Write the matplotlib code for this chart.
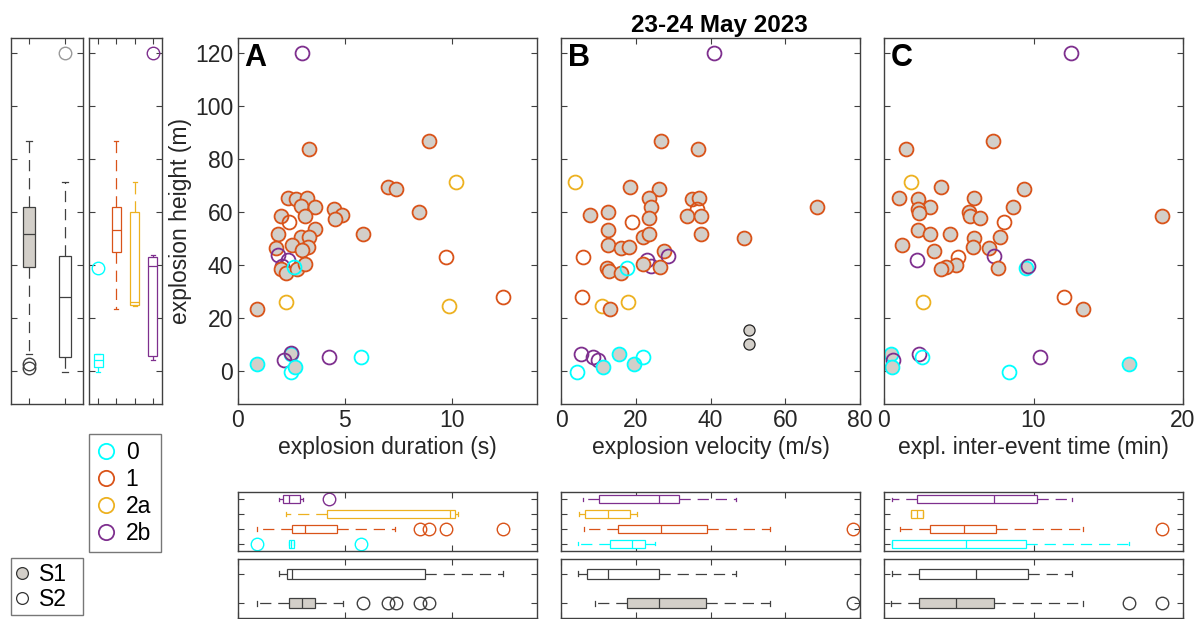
import matplotlib
matplotlib.use('Agg')
import matplotlib.pyplot as plt
from matplotlib.lines import Line2D

plt.rcParams['font.family'] = ['Liberation Sans', 'DejaVu Sans']

W, H = 1202, 619

# ---------------- colours ----------------
CLASS_COL = {'0': '#00FFFF', '1': '#D95319', '2a': '#EDB120', '2b': '#7E2F8E', 'u': '#333333'}
S1_FILL = '#D3CFC9'
AX_COL = '#404040'

class_names = ['0', '1', '2a', '2b']
station_names = ['S1', 'S2']

# ---------------- scatter data ----------------
# Panel A: explosion duration (s)
dur_x = [3.02, 3.32, 8.94, 10.19, 7.01, 7.38, 8.49, 5.83, 9.74, 12.40, 9.86, 2.26, 0.87, 0.90, 2.46,
         2.50, 2.17, 2.48, 2.68, 4.25, 5.76, 2.32, 2.71, 3.22, 2.93, 3.60, 2.00, 2.40, 3.15, 4.50,
         4.89, 4.55, 1.88, 3.61, 2.93, 3.33, 2.52, 3.29, 1.78, 2.99, 1.88, 2.35, 2.07, 2.00, 2.27,
         2.74, 3.15, 2.63]
dur_h = [120.0, 83.5, 86.7, 71.3, 69.3, 68.4, 60.0, 51.5, 43.0, 27.9, 24.4, 26.0, 23.5, 2.7, 6.2,
         6.6, 4.0, -0.4, 1.3, 5.3, 5.3, 65.0, 64.7, 65.0, 62.2, 61.9, 58.4, 56.1, 58.4, 61.0,
         58.6, 57.2, 51.6, 53.4, 50.6, 50.3, 47.4, 46.6, 46.2, 45.5, 43.5, 41.8, 39.5, 38.5, 37.0,
         38.5, 40.1, 39.0]
dur_cls = ['2b', '1', '1', '2a', '1', '1', '1', '1', '1', '1', '2a', '2a', '1', '0', '0',
           '2b', '2b', '0', '0', '2b', '0', '1', '1', '1', '1', '1', '1', '1', '1', '1',
           '1', '1', '1', '1', '1', '1', '1', '1', '1', '1', '2b', '2b', '2b', '1', '1',
           '1', '1', '0']
dur_st = ['S2', 'S1', 'S1', 'S2', 'S1', 'S1', 'S1', 'S1', 'S2', 'S2', 'S2', 'S2', 'S1', 'S1', 'S1',
          'S2', 'S2', 'S2', 'S1', 'S2', 'S2', 'S1', 'S1', 'S1', 'S1', 'S1', 'S1', 'S2', 'S1', 'S1',
          'S1', 'S1', 'S1', 'S1', 'S1', 'S1', 'S1', 'S1', 'S1', 'S1', 'S2', 'S2', 'S2', 'S1', 'S1',
          'S1', 'S1', 'S2']

# Panel B: explosion velocity (m/s)
vel_x = [40.9, 26.8, 36.7, 3.8, 18.4, 26.2, 23.6, 24.2, 35.1, 36.9, 36.3, 33.8, 37.4, 37.4, 68.4,
         48.9, 7.8, 12.6, 18.9, 23.5, 12.6, 22.0, 23.6, 12.5, 16.0, 18.1, 6.0, 27.5, 28.7, 23.1,
         24.1, 22.0, 26.5, 12.4, 12.9, 16.0, 17.6, 5.7, 10.9, 13.2, 17.8, 50.3, 50.3, 5.3, 8.5,
         10.0, 11.3, 15.5, 19.5, 22.0, 4.2]
vel_h = [120.0, 86.7, 83.5, 71.3, 69.3, 68.4, 65.0, 61.9, 64.7, 65.0, 61.2, 58.4, 58.4, 51.5, 61.9,
         50.0, 58.8, 60.0, 56.1, 57.5, 53.1, 50.6, 51.5, 47.4, 46.2, 46.6, 43.0, 45.3, 43.3, 41.8,
         39.5, 40.1, 39.0, 38.8, 37.8, 36.9, 38.8, 27.9, 24.4, 23.5, 26.0, 15.4, 10.1, 6.2, 5.3,
         4.0, 1.3, 6.2, 2.7, 5.3, -0.4]
vel_cls = ['2b', '1', '1', '2a', '1', '1', '1', '1', '1', '1', '1', '1', '1', '1', '1',
           '1', '1', '1', '1', '1', '1', '1', '1', '1', '1', '1', '1', '1', '2b', '2b',
           '2b', '1', '1', '1', '1', '1', '0', '1', '2a', '1', '2a', 'u', 'u', '2b', '2b',
           '2b', '0', '0', '0', '0', '0']
vel_st = ['S2', 'S1', 'S1', 'S2', 'S1', 'S1', 'S1', 'S1', 'S1', 'S1', 'S2', 'S1', 'S1', 'S1', 'S1',
          'S1', 'S1', 'S1', 'S2', 'S1', 'S1', 'S1', 'S1', 'S1', 'S1', 'S1', 'S2', 'S1', 'S2', 'S2',
          'S2', 'S1', 'S1', 'S1', 'S1', 'S1', 'S2', 'S2', 'S2', 'S1', 'S2', 'S1', 'S1', 'S2', 'S2',
          'S2', 'S1', 'S1', 'S1', 'S2', 'S2']

# Panel C: inter-event time (min)
iet_x = [12.51, 1.47, 7.29, 1.80, 3.80, 9.38, 1.02, 2.29, 6.02, 3.07, 2.29, 5.69, 8.62, 2.33, 5.78,
         6.40, 8.02, 18.62, 2.29, 3.07, 4.40, 6.02, 7.73, 1.22, 3.33, 5.98, 7.02, 4.98, 2.18, 7.36,
         4.80, 4.13, 3.84, 7.64, 9.47, 9.64, 2.62, 12.04, 13.31, 0.44, 0.58, 0.51, 2.31, 2.56, 10.44,
         8.33, 16.42]
iet_h = [120.0, 83.5, 86.7, 71.3, 69.3, 68.4, 65.0, 64.7, 65.0, 61.9, 61.2, 60.0, 61.9, 59.4, 58.5,
         57.5, 56.1, 58.4, 53.1, 51.5, 51.5, 50.0, 50.6, 47.4, 45.3, 46.6, 46.2, 43.0, 41.7, 43.3,
         39.9, 39.0, 38.3, 38.8, 38.8, 39.5, 26.0, 27.9, 23.5, 6.2, 4.0, 1.3, 6.2, 5.3, 5.3,
         -0.4, 2.7]
iet_cls = ['2b', '1', '1', '2a', '1', '1', '1', '1', '1', '1', '1', '1', '1', '1', '1',
           '1', '1', '1', '1', '1', '1', '1', '1', '1', '1', '1', '1', '1', '2b', '2b',
           '1', '1', '1', '1', '0', '2b', '2a', '1', '1', '0', '2b', '0', '2b', '0', '2b',
           '0', '0']
iet_st = ['S2', 'S1', 'S1', 'S2', 'S1', 'S1', 'S1', 'S1', 'S1', 'S1', 'S1', 'S1', 'S1', 'S1', 'S1',
          'S1', 'S2', 'S1', 'S1', 'S1', 'S1', 'S1', 'S1', 'S1', 'S1', 'S1', 'S1', 'S2', 'S2', 'S2',
          'S1', 'S1', 'S1', 'S1', 'S1', 'S2', 'S2', 'S2', 'S1', 'S1', 'S2', 'S1', 'S2', 'S2', 'S2',
          'S2', 'S1']

# ---------------- box-plot statistics ----------------
# height by station (S1, S2)
hs_lo = [6.3, -0.4]; hs_q1 = [39.0, 5.3]; hs_med = [51.5, 27.7]; hs_q3 = [61.7, 43.4]; hs_hi = [86.7, 71.3]
hs_fl = [[2.4, 1.1], [120.0]]
# height by class (0, 1, 2a, 2b)
hc_lo = [-0.4, 23.5, 24.4, 4.0]; hc_q1 = [1.3, 44.7, 24.7, 5.5]; hc_med = [4.0, 53.1, 26.0, 39.6]
hc_q3 = [6.2, 61.8, 60.0, 43.0]; hc_hi = [6.2, 86.7, 71.3, 43.5]; hc_fl = [[38.8], [], [], [120.0]]

# duration by class / station
dc_lo = [2.40, 0.87, 2.27, 1.92]; dc_q1 = [2.40, 2.51, 4.16, 2.12]; dc_med = [2.50, 3.16, 9.91, 2.37]
dc_q3 = [2.63, 4.64, 10.17, 2.90]; dc_hi = [2.63, 7.37, 10.30, 3.04]
dc_fl = [[0.90, 5.78], [8.50, 8.94, 9.75, 12.40], [], [4.25]]
ds_lo = [0.87, 1.92]; ds_q1 = [2.38, 2.30]; ds_med = [3.0, 2.51]; ds_q3 = [3.61, 8.75]; ds_hi = [4.92, 12.4]
ds_fl = [[5.83, 7.03, 7.42, 8.50, 8.94], []]

# velocity by class / station
vc_lo = [4.6, 6.2, 4.8, 6.0]; vc_q1 = [13.0, 15.2, 6.3, 10.2]; vc_med = [18.9, 26.8, 12.6, 26.3]
vc_q3 = [22.4, 39.0, 18.5, 31.6]; vc_hi = [25.2, 56.0, 20.4, 46.7]
vc_fl = [[], [78.0], [], []]
vs_lo = [9.0, 4.6]; vs_q1 = [17.7, 6.9]; vs_med = [26.1, 12.6]; vs_q3 = [38.8, 26.3]; vs_hi = [56.0, 46.7]
vs_fl = [[78.0], []]

# inter-event time by class / station
ic_lo = [0.53, 1.07, 1.82, 0.53]; ic_q1 = [0.53, 3.09, 1.82, 2.22]; ic_med = [5.47, 5.33, 2.24, 7.38]
ic_q3 = [9.49, 7.47, 2.64, 10.22]; ic_hi = [16.36, 13.33, 2.64, 12.56]
ic_fl = [[], [18.62], [], []]
is_lo = [0.47, 0.53]; is_q1 = [2.33, 2.33]; is_med = [4.82, 6.18]; is_q3 = [7.38, 9.62]; is_hi = [13.29, 12.56]
is_fl = [[16.36, 18.62], []]


def stats(lo, q1, med, q3, hi, fl):
    return [dict(whislo=a, q1=b, med=c, q3=d, whishi=e, fliers=f)
            for a, b, c, d, e, f in zip(lo, q1, med, q3, hi, fl)]


def add_ax(x0, y0, x1, y1):
    return fig.add_axes([x0 / W, 1 - y1 / H, (x1 - x0) / W, (y1 - y0) / H])


def style(ax):
    for s in ax.spines.values():
        s.set_color(AX_COL)
        s.set_linewidth(1.0)
    ax.tick_params(direction='in', top=True, right=True, length=4, width=0.8,
                   colors=AX_COL, labelcolor='#262626', labelsize=16.5)


def draw_box(ax, st, colors, fills, width, horizontal):
    kw = dict(orientation='horizontal') if horizontal else {}
    try:
        arts = ax.bxp(st, positions=range(1, len(st) + 1), widths=width, patch_artist=True,
                      capwidths=width * 0.45, manage_ticks=False, **kw)
    except TypeError:
        arts = ax.bxp(st, positions=range(1, len(st) + 1), widths=width, patch_artist=True,
                      capwidths=width * 0.45, manage_ticks=False, vert=not horizontal)
    for i, c in enumerate(colors):
        arts['boxes'][i].set(facecolor=fills[i], edgecolor=c, linewidth=0.9)
        arts['medians'][i].set(color=c, linewidth=0.9)
        for w in arts['whiskers'][2 * i:2 * i + 2]:
            w.set(color=c, linewidth=0.9, linestyle=(0, (9, 5.5)))
        for cp in arts['caps'][2 * i:2 * i + 2]:
            cp.set(color=c, linewidth=0.9)
        arts['fliers'][i].set(marker='o', markerfacecolor='none', markeredgecolor=c,
                              markersize=9, markeredgewidth=1.0, clip_on=False)
    return arts


fig = plt.figure(figsize=(W / 100, H / 100), dpi=100)

YLIM = (-12.5, 125.5)
YT = [0, 20, 40, 60, 80, 100, 120]

panels = [
    (238, 537, (0, 14), [0, 5, 10], dur_x, dur_h, dur_cls, dur_st, 'explosion duration (s)', 'A',
     stats(dc_lo, dc_q1, dc_med, dc_q3, dc_hi, dc_fl), stats(ds_lo, ds_q1, ds_med, ds_q3, ds_hi, ds_fl)),
    (561, 860, (0, 80), [0, 20, 40, 60, 80], vel_x, vel_h, vel_cls, vel_st, 'explosion velocity (m/s)', 'B',
     stats(vc_lo, vc_q1, vc_med, vc_q3, vc_hi, vc_fl), stats(vs_lo, vs_q1, vs_med, vs_q3, vs_hi, vs_fl)),
    (884, 1183, (0, 20), [0, 10, 20], iet_x, iet_h, iet_cls, iet_st, 'expl. inter-event time (min)', 'C',
     stats(ic_lo, ic_q1, ic_med, ic_q3, ic_hi, ic_fl), stats(is_lo, is_q1, is_med, is_q3, is_hi, is_fl)),
]

for k, (x0, x1, xl, xt, xs, hs, cl, sts, xlabel, letter, cstats, sstats) in enumerate(panels):
    ax = add_ax(x0, 38, x1, 404)
    style(ax)
    for x, h, c, s in zip(xs, hs, cl, sts):
        if c == 'u':
            ax.plot(x, h, 'o', ms=8, mfc=S1_FILL, mec='#222222', mew=0.9)
        else:
            ax.plot(x, h, 'o', ms=10, mfc=S1_FILL if s == 'S1' else 'none',
                    mec=CLASS_COL[c], mew=1.3)
    ax.set_xlim(*xl)
    ax.set_ylim(*YLIM)
    ax.set_xticks(xt)
    ax.set_yticks(YT)
    ax.set_xlabel(xlabel, fontsize=16.5, color='#262626', labelpad=3)
    if k == 0:
        ax.set_ylabel('explosion height (m)', fontsize=16.5, color='#262626', labelpad=2)
    else:
        ax.set_yticklabels([])
    ax.text(0.022, 0.985, letter, transform=ax.transAxes, fontsize=22, fontweight='bold',
            va='top', ha='left')

    # class box-plots
    bx = add_ax(x0, 492, x1, 551)
    style(bx)
    draw_box(bx, cstats, [CLASS_COL[c] for c in class_names], ['white'] * 4, 0.55, True)
    bx.set_xlim(*xl)
    bx.set_ylim(0.5, 4.5)
    bx.set_xticks(xt)
    bx.set_yticks([1, 2, 3, 4])
    bx.set_xticklabels([])
    bx.set_yticklabels([])

    # station box-plots
    sx = add_ax(x0, 559, x1, 618)
    style(sx)
    draw_box(sx, sstats, [AX_COL, AX_COL], [S1_FILL, 'white'], 0.34, True)
    sx.set_xlim(*xl)
    sx.set_ylim(0.5, 2.5)
    sx.set_xticks(xt)
    sx.set_yticks([1, 2])
    sx.set_xticklabels([])
    sx.set_yticklabels([])

# left box-plots of height
lx1 = add_ax(11, 38, 83, 404)
style(lx1)
a1 = draw_box(lx1, stats(hs_lo, hs_q1, hs_med, hs_q3, hs_hi, hs_fl), [AX_COL, AX_COL],
              [S1_FILL, 'white'], 0.31, False)
a1['fliers'][1].set(markeredgecolor='#999999')
lx1.set_xlim(0.5, 2.5)
lx1.set_ylim(*YLIM)
lx1.set_xticks([1, 2])
lx1.set_yticks(YT)
lx1.set_xticklabels([])
lx1.set_yticklabels([])

lx2 = add_ax(89, 38, 162, 404)
style(lx2)
draw_box(lx2, stats(hc_lo, hc_q1, hc_med, hc_q3, hc_hi, hc_fl),
         [CLASS_COL[c] for c in class_names], ['white'] * 4, 0.48, False)
lx2.set_xlim(0.5, 4.5)
lx2.set_ylim(*YLIM)
lx2.set_xticks([1, 2, 3, 4])
lx2.set_yticks(YT)
lx2.set_xticklabels([])
lx2.set_yticklabels([])

# title
fig.text(719 / W, 1 - 32 / H, '23-24 May 2023', ha='center', va='baseline',
         fontsize=17.5, fontweight='bold')

# legends
h1 = [Line2D([], [], ls='none', marker='o', ms=11, mfc='none', mec=CLASS_COL[c], mew=1.3)
      for c in class_names]
leg1 = fig.legend(h1, class_names, loc='upper left',
                  bbox_to_anchor=(89 / W, 1 - 434 / H, 72 / W, 0.0), mode='expand',
                  borderaxespad=0, fontsize=16.5, frameon=True, fancybox=False,
                  handlelength=0.9, handletextpad=0.4, borderpad=0.3, labelspacing=0.18)
leg1.get_frame().set_edgecolor('#555555')
leg1.get_frame().set_linewidth(1.0)

h2 = [Line2D([], [], ls='none', marker='o', ms=8.5, mfc=S1_FILL, mec='#333333', mew=0.9),
      Line2D([], [], ls='none', marker='o', ms=8.5, mfc='white', mec='#333333', mew=0.9)]
leg2 = fig.legend(h2, station_names, loc='upper left',
                  bbox_to_anchor=(11 / W, 1 - 558 / H, 72 / W, 0.0), mode='expand',
                  borderaxespad=0, fontsize=16.5, frameon=True, fancybox=False,
                  handlelength=0.6, handletextpad=0.4, borderpad=0.2, labelspacing=0.1)
leg2.get_frame().set_edgecolor('#555555')
leg2.get_frame().set_linewidth(1.0)

fig.savefig('out.png', dpi=100)
